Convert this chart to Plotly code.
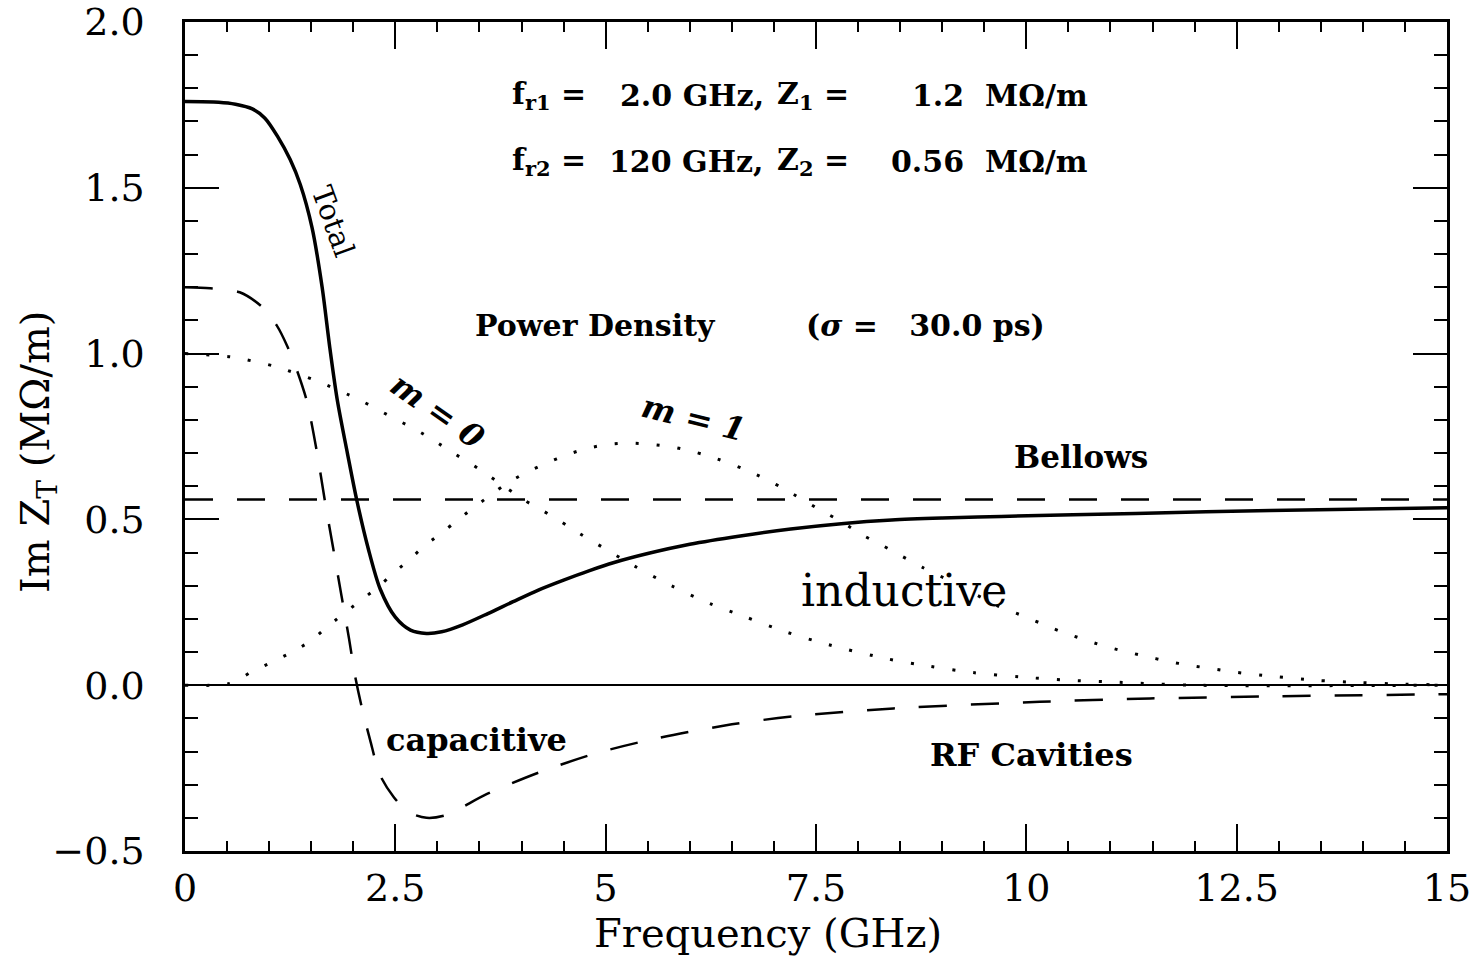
import plotly.graph_objects as go

# ---- data ----
total_x = [0, 0.4, 0.6, 0.8, 0.95, 1.1, 1.25, 1.37, 1.51, 1.63, 1.72, 1.81, 1.93, 2.04, 2.18, 2.32, 2.5, 2.68,
           2.87, 3.05, 3.3, 3.6, 3.9, 4.2, 4.5, 4.8, 5.1, 5.5, 6.0, 6.6, 7.2, 7.8, 8.4, 9.0, 9.7, 11.3, 12.9, 15]
total_y = [1.76, 1.758, 1.752, 1.738, 1.71, 1.655, 1.585, 1.51, 1.38, 1.2, 1.02, 0.86, 0.70, 0.56, 0.41, 0.29,
           0.205, 0.166, 0.156, 0.161, 0.182, 0.216, 0.252, 0.287, 0.317, 0.345, 0.37, 0.397, 0.425, 0.45,
           0.471, 0.487, 0.498, 0.504, 0.509, 0.518, 0.527, 0.535]

rf_x = [0, 0.3, 0.65, 0.92, 1.09, 1.22, 1.33, 1.45, 1.57, 1.66, 1.76, 1.86, 1.95, 2.02, 2.1, 2.2, 2.32,
        2.48, 2.65, 2.87, 3.1, 3.59, 4.22, 4.89, 5.61, 6.5, 7.23, 8.42, 10.16, 11.47, 12.86, 15]
rf_y = [1.2, 1.197, 1.185, 1.14, 1.085, 1.02, 0.95, 0.855, 0.70, 0.56, 0.415, 0.27, 0.14, 0.03, -0.065,
        -0.165, -0.272, -0.337, -0.382, -0.40, -0.392, -0.328, -0.262, -0.205, -0.16, -0.118, -0.094,
        -0.07, -0.05, -0.04, -0.034, -0.027]

bellows_x = [0, 15]
bellows_y = [0.56, 0.56]

m0_x = [0, 0.55, 0.83, 1.09, 1.58, 2.06, 2.3, 2.52, 2.75, 2.97, 3.19, 3.41, 3.62, 3.82, 4.04, 4.26, 4.47,
        4.68, 4.89, 5.33, 5.78, 6.24, 6.66, 7.15, 7.65, 8.34, 8.85, 9.37, 9.92, 10.5, 11.0, 12.0, 15]
m0_y = [1.0, 0.99, 0.976, 0.96, 0.916, 0.862, 0.83, 0.80, 0.77, 0.736, 0.70, 0.666, 0.63, 0.595, 0.557,
        0.525, 0.493, 0.459, 0.427, 0.361, 0.30, 0.246, 0.206, 0.16, 0.122, 0.08, 0.057, 0.038, 0.025,
        0.015, 0.01, 0.0, 0.0]

m1_x = [0, 0.53, 0.79, 1.03, 1.27, 1.49, 1.68, 2.08, 2.29, 2.47, 2.66, 2.85, 3.05, 3.24, 3.44, 3.64, 3.83,
        4.06, 4.3, 4.54, 4.78, 5.03, 5.29, 5.55, 5.8, 6.06, 6.32, 6.66, 6.89, 7.12, 7.56, 7.79, 8.06, 8.3,
        8.52, 8.76, 9.13, 9.67, 9.92, 10.16, 10.4, 10.66, 10.9, 11.15, 11.42, 11.68, 11.94, 12.2, 12.46,
        12.92, 13.43, 13.97, 14.5, 15]
m1_y = [0.0, 0.005, 0.04, 0.069, 0.10, 0.133, 0.174, 0.254, 0.295, 0.336, 0.377, 0.421, 0.459, 0.498,
        0.537, 0.575, 0.609, 0.642, 0.67, 0.695, 0.714, 0.726, 0.73, 0.726, 0.718, 0.703, 0.683, 0.65,
        0.623, 0.592, 0.527, 0.495, 0.452, 0.42, 0.389, 0.356, 0.31, 0.238, 0.213, 0.188, 0.163, 0.14,
        0.12, 0.103, 0.087, 0.072, 0.06, 0.05, 0.04, 0.027, 0.015, 0.008, 0.003, 0.001]

x_ticks = [0, 2.5, 5, 7.5, 10, 12.5, 15]
x_ticktext = ["0", "2.5", "5", "7.5", "10", "12.5", "15"]
y_ticks = [-0.5, 0.0, 0.5, 1.0, 1.5, 2.0]
y_ticktext = ["\u22120.5", "0.0", "0.5", "1.0", "1.5", "2.0"]

SERIF = "DejaVu Serif"
fig = go.Figure()

dots = "3px,18px"
dashes = "28px,24px"
fig.add_trace(go.Scatter(x=m0_x, y=m0_y, mode="lines", line=dict(color="black", width=3, dash=dots, shape="spline", smoothing=0.8)))
fig.add_trace(go.Scatter(x=m1_x, y=m1_y, mode="lines", line=dict(color="black", width=3, dash=dots, shape="spline", smoothing=0.8)))
fig.add_trace(go.Scatter(x=bellows_x, y=bellows_y, mode="lines", line=dict(color="black", width=2.5, dash=dashes)))
fig.add_trace(go.Scatter(x=rf_x, y=rf_y, mode="lines", line=dict(color="black", width=2.5, dash=dashes, shape="spline", smoothing=0.8)))
fig.add_trace(go.Scatter(x=total_x, y=total_y, mode="lines", line=dict(color="black", width=3.5, shape="spline", smoothing=0.8)))

bold = dict(family=SERIF, size=30, color="black")
NB = "\u00a0"
ann = [
    # parameter lines
    dict(x=3.863, y=1.777, text="<b>f<sub>r1</sub>" + NB + "=</b>", xanchor="left", font=bold),
    dict(x=6.906, y=1.777, text="<b>2.0" + NB + "GHz,</b>", xanchor="right", font=bold),
    dict(x=7.013, y=1.777, text="<b>Z<sub>1</sub>" + NB + "=</b>", xanchor="left", font=bold),
    dict(x=10.76, y=1.777, text="<b>1.2" + NB + NB + "M\u03a9/m</b>", xanchor="right", font=bold),
    dict(x=3.863, y=1.58, text="<b>f<sub>r2</sub>" + NB + "=</b>", xanchor="left", font=bold),
    dict(x=6.906, y=1.58, text="<b>120" + NB + "GHz,</b>", xanchor="right", font=bold),
    dict(x=7.013, y=1.58, text="<b>Z<sub>2</sub>" + NB + "=</b>", xanchor="left", font=bold),
    dict(x=10.76, y=1.58, text="<b>0.56" + NB + NB + "M\u03a9/m</b>", xanchor="right", font=bold),
    dict(x=4.885, y=1.084, text="<b>Power" + NB + "Density</b>", font=bold),
    dict(x=8.80, y=1.084, text="<b>(<i>\u03c3</i>" + NB + "=" + NB * 3 + "30.0" + NB + "ps)</b>", font=bold),
    dict(x=1.76, y=1.40, text="Total", textangle=70, font=dict(family=SERIF, size=29, color="black")),
    dict(x=3.0, y=0.828, text="<b><i>m" + NB + "=" + NB + "0</i></b>", textangle=35, font=dict(family=SERIF, size=32, color="black")),
    dict(x=6.04, y=0.806, text="<b><i>m" + NB + "=" + NB + "1</i></b>", textangle=14, font=dict(family=SERIF, size=32, color="black")),
    dict(x=10.65, y=0.687, text="<b>Bellows</b>", font=dict(family=SERIF, size=31, color="black")),
    dict(x=8.55, y=0.286, text="inductive", font=dict(family=SERIF, size=44, color="black")),
    dict(x=3.47, y=-0.166, text="<b>capacitive</b>", font=dict(family=SERIF, size=32, color="black")),
    dict(x=10.06, y=-0.211, text="<b>RF" + NB + "Cavities</b>", font=dict(family=SERIF, size=32, color="black")),
    dict(x=0.462, y=-0.0995, xref="paper", yref="paper", text="Frequency (GHz)", font=dict(family=SERIF, size=40, color="black")),
    dict(x=-0.1165, y=0.4813, xref="paper", yref="paper", text="Im Z<sub>T</sub> (M\u03a9/m)", textangle=-90, font=dict(family=SERIF, size=40, color="black")),
]
for a in ann:
    a.setdefault("xref", "x")
    a.setdefault("yref", "y")
    a.setdefault("xanchor", "center")
    a["yanchor"] = "middle"
    a["showarrow"] = False
fig.update_layout(annotations=ann)

fig.update_layout(
    width=1475, height=959,
    margin=dict(l=185, r=28, t=22, b=108, autoexpand=False),
    paper_bgcolor="white", plot_bgcolor="white",
    showlegend=False,
    xaxis=dict(range=[0, 15], tickvals=x_ticks, ticktext=x_ticktext, ticks="inside", ticklen=27, tickwidth=2,
               tickcolor="black", showline=True, linecolor="black", linewidth=2.5, mirror="ticks",
               showgrid=False, zeroline=False, automargin=False,
               minor=dict(dtick=0.5, tick0=0, ticks="inside", ticklen=10, tickwidth=2, tickcolor="black", showgrid=False),
               tickfont=dict(family=SERIF, size=38, color="black"), ticklabelstandoff=2),
    yaxis=dict(range=[-0.5, 2.0], tickvals=y_ticks, ticktext=y_ticktext, ticks="inside", ticklen=34, tickwidth=2,
               tickcolor="black", showline=True, linecolor="black", linewidth=2.5, mirror="ticks",
               showgrid=False, zeroline=True, zerolinecolor="black", zerolinewidth=2, automargin=False,
               minor=dict(dtick=0.1, tick0=0, ticks="inside", ticklen=13, tickwidth=2, tickcolor="black", showgrid=False),
               tickfont=dict(family=SERIF, size=38, color="black"), ticklabelstandoff=30),
)

fig.write_html("out.html")
